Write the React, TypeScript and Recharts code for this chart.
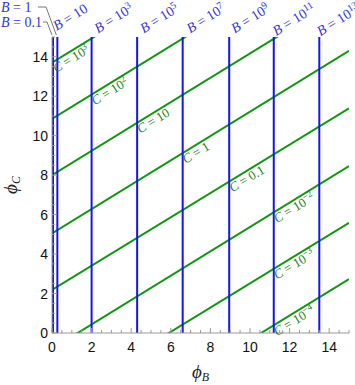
import { ComposedChart, Line, XAxis, YAxis, ReferenceLine, ReferenceDot } from 'recharts';

// blue lines: constant B, position on the phi_B axis
const bMantissa = ['0.1', '1', '10', '10', '10', '10', '10', '10', '10'];
const bPower = ['', '', '', '3', '5', '7', '9', '11', '13'];
const bPhi = [0.05, 0.27, 2.0, 4.3, 6.6, 8.95, 11.2, 13.5, 15.75];

// green lines: constant C, phi_C at phi_B = 0 and at phi_B = 15
const cMantissa = ['10', '10', '10', '1', '0.1', '10', '10', '10'];
const cPower = ['3', '2', '', '', '', '\u22122', '\u22123', '\u22124'];
const cStart = [13.7, 10.85, 8.0, 5.05, 2.18, -0.8, -3.62, -6.5];
const cEnd = [22.9, 20.1, 17.25, 14.3, 11.38, 8.46, 5.58, 2.73];
// phi_B where each C label sits (on a B line)
const cLabelAt = [0.05, 2.0, 4.3, 6.6, 8.95, 11.2, 11.2, 11.2];

const axisTicks = Array.from({ length: 31 }, (_, i) => i / 2);
const tickLabels = [0, 2, 4, 6, 8, 10, 12, 14];

const BLUE = '#1414f5';
const GREEN = '#149414';
const BLUE_TEXT = '#3434d8';
const GREEN_TEXT = '#237d23';
const FRAME = '#9a9a9a';
const SERIF = '"Liberation Serif", "DejaVu Serif", serif';
const SANS = '"Liberation Sans", Arial, sans-serif';

const tickLen = (v: number) => (v % 2 === 0 ? 5 : 3);

function BottomTick({ x, y, payload }: any) {
  const v = payload.value;
  return (
    <g>
      <line x1={x} y1={y} x2={x} y2={y - tickLen(v)} stroke={FRAME} />
      {tickLabels.includes(v) && (
        <text x={x} y={y + 19} textAnchor="middle" fontFamily={SANS} fontSize={14} fill="#111">
          {v}
        </text>
      )}
    </g>
  );
}

function TopTick({ x, y, payload }: any) {
  return <line x1={x} y1={y} x2={x} y2={y + tickLen(payload.value)} stroke={FRAME} />;
}

function LeftTick({ x, y, payload }: any) {
  const v = payload.value;
  return (
    <g>
      <line x1={x} y1={y} x2={x + tickLen(v)} y2={y} stroke={FRAME} />
      {tickLabels.includes(v) && (
        <text x={x - 4} y={y + 5} textAnchor="end" fontFamily={SANS} fontSize={14} fill="#111">
          {v}
        </text>
      )}
    </g>
  );
}

function RightTick({ x, y, payload }: any) {
  return <line x1={x} y1={y} x2={x - tickLen(payload.value)} y2={y} stroke={FRAME} />;
}

function XTitle({ viewBox }: any) {
  const cx = viewBox ? viewBox.x + viewBox.width / 2 : 200;
  const by = viewBox ? viewBox.y + 45 : 378;
  return (
    <text x={cx} y={by} textAnchor="middle" fontFamily={SERIF} fontSize={19} fontStyle="italic" fill="#222">
      {'\u03d5'}
      <tspan fontSize={12} dy={3}>B</tspan>
    </text>
  );
}

function YTitle({ viewBox }: any) {
  const cx = 17;
  const cy = viewBox ? viewBox.y + viewBox.height / 2 : 185;
  return (
    <text
      x={cx}
      y={cy}
      transform={`rotate(-90, ${cx}, ${cy})`}
      textAnchor="middle"
      fontFamily={SERIF}
      fontSize={19}
      fontStyle="italic"
      fill="#222"
    >
      {'\u03d5'}
      <tspan fontSize={12} dy={3}>C</tspan>
    </text>
  );
}

function valueText(mantissa: string, power: string, sup: number) {
  return (
    <>
      {' = '}
      {mantissa}
      {power && (
        <tspan dy={-5} fontSize={sup}>
          {power}
        </tspan>
      )}
    </>
  );
}

function makeBLabel(i: number) {
  return (props: any) => {
    const { cx, cy } = props;
    if (i === 0 || i === 1) {
      const ty = i === 1 ? 12 : 27;
      const ex = i === 1 ? 38 : 43;
      const lx = i === 1 ? 46 : 47;
      return (
        <g>
          <text x={1} y={ty} fontFamily={SERIF} fontSize={14} fill={BLUE_TEXT}>
            <tspan fontStyle="italic">B</tspan>
            {valueText(bMantissa[i], bPower[i], 10)}
          </text>
          <polyline
            points={`${ex},${ty - 5} ${lx},${ty - 5} ${cx - 1},${cy - 2}`}
            fill="none"
            stroke="#777"
            strokeWidth={1}
          />
        </g>
      );
    }
    const ax = cx - 3;
    const ay = cy - 26;
    return (
      <text
        x={ax}
        y={ay}
        transform={`rotate(-32 ${ax} ${ay})`}
        textAnchor="end"
        fontFamily={SERIF}
        fontSize={14}
        fill={BLUE_TEXT}
      >
        <tspan fontStyle="italic">B</tspan>
        {valueText(bMantissa[i], bPower[i], 10)}
      </text>
    );
  };
}

function makeCLabel(i: number) {
  return (props: any) => {
    const { cx, cy } = props;
    // shift along / below the line in the rotated frame
    const a = (31.5 * Math.PI) / 180;
    const ax = cx - 3 * Math.cos(a) + 11 * Math.sin(a);
    const ay = cy + 3 * Math.sin(a) + 11 * Math.cos(a);
    return (
      <text
        x={ax}
        y={ay}
        transform={`rotate(-31.5 ${ax} ${ay})`}
        fontFamily={SERIF}
        fontSize={13}
        fill={GREEN_TEXT}
      >
        <tspan fontStyle="italic">C</tspan>
        {valueText(cMantissa[i], cPower[i], 9)}
      </text>
    );
  };
}

export default function App() {
  return (
    <div style={{ position: 'absolute', left: 0, top: 0, background: '#fff' }}>
      <ComposedChart width={355} height={385} margin={{ top: 37, right: 6, bottom: 0, left: 0 }}>
        <XAxis
          dataKey="x"
          type="number"
          domain={[0, 15]}
          allowDataOverflow
          ticks={axisTicks}
          interval={0}
          height={52}
          tickSize={0}
          tickMargin={0}
          tickLine={false}
          axisLine={{ stroke: FRAME }}
          tick={<BottomTick />}
          label={<XTitle />}
        />
        <XAxis
          xAxisId="top"
          orientation="top"
          dataKey="x"
          type="number"
          domain={[0, 15]}
          allowDataOverflow
          ticks={axisTicks}
          interval={0}
          height={0}
          tickSize={0}
          tickMargin={0}
          tickLine={false}
          axisLine={{ stroke: FRAME }}
          tick={<TopTick />}
        />
        <YAxis
          type="number"
          domain={[0, 15]}
          allowDataOverflow
          ticks={axisTicks}
          interval={0}
          width={52}
          tickSize={0}
          tickMargin={0}
          tickLine={false}
          axisLine={{ stroke: FRAME }}
          tick={<LeftTick />}
          label={<YTitle />}
        />
        <YAxis
          yAxisId="right"
          orientation="right"
          type="number"
          domain={[0, 15]}
          allowDataOverflow
          ticks={axisTicks}
          interval={0}
          width={0}
          tickSize={0}
          tickMargin={0}
          tickLine={false}
          axisLine={{ stroke: FRAME }}
          tick={<RightTick />}
        />
        {cStart.map((s, i) => (
          <Line
            key={`c${i}`}
            data={[
              { x: 0, y: s },
              { x: 15, y: cEnd[i] },
            ]}
            dataKey="y"
            stroke={GREEN}
            strokeWidth={2}
            dot={false}
            activeDot={false}
            isAnimationActive={false}
          />
        ))}
        {bPhi.map((b, i) => (
          <ReferenceLine key={`b${i}`} x={b} stroke={BLUE} strokeWidth={2} />
        ))}
        {bPhi.map((b, i) => (
          <ReferenceDot key={`bl${i}`} x={b} y={15} r={0} ifOverflow="visible" shape={makeBLabel(i)} />
        ))}
        {cStart.map((s, i) => (
          <ReferenceDot
            key={`cl${i}`}
            x={cLabelAt[i]}
            y={s + ((cEnd[i] - s) * cLabelAt[i]) / 15}
            r={0}
            ifOverflow="visible"
            shape={makeCLabel(i)}
          />
        ))}
      </ComposedChart>
    </div>
  );
}
